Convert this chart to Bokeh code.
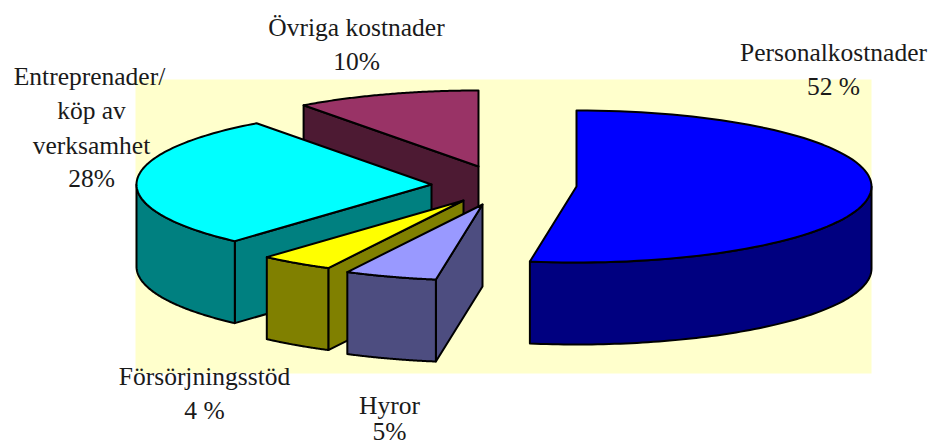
import math
from bokeh.plotting import figure
from bokeh.models import Range1d
from bokeh.core.properties import value
from bokeh.embed import file_html
from bokeh.resources import INLINE

# Data, clockwise from 12 o'clock
names = ["Personalkostnader", "Hyror", "Försörjningsstöd", "Entreprenader/ köp av verksamhet", "Övriga kostnader"]
shares = [52, 5, 4, 28, 10]

# Styles
top_colors = ["#0000FF", "#9999FF", "#FFFF00", "#00FFFF", "#993366"]
wall_colors = ["#000080", "#4D4D80", "#808000", "#008080", "#4D1A33"]
plot_bg = "#FFFFCC"
text_color = "#1a1a1a"

# Layout of the exploded pie (pixel-like data units)
apex_x = [576, 482, 463, 431, 478]
apex_y = [186, 204, 200, 184, 166]
RX, RY, DEPTH = 295, 76, 82
draw_order = [4, 3, 2, 1, 0]

label_lines = ["Personalkostnader", "52 %", "Övriga kostnader", "10%", "Entreprenader/", "köp av",
               "verksamhet", "28%", "Försörjningsstöd", "4 %", "Hyror", "5%"]
label_x = [833, 833, 356, 356, 89, 91, 91, 91, 204, 204, 389, 389]
label_y = [52, 86, 27, 61, 76, 110, 145, 178, 376, 410, 405, 431]


def arc(cx, cy, a0, a1, n=90):
    pts = []
    for i in range(n + 1):
        t = math.radians(a0 + (a1 - a0) * i / n)
        pts.append((cx + RX * math.cos(t), cy - RY * math.sin(t)))
    return pts


WIDTH, HEIGHT = 929, 446
p = figure(width=WIDTH, height=HEIGHT, output_backend="svg", toolbar_location=None,
           x_range=Range1d(0, WIDTH), y_range=Range1d(HEIGHT, 0),
           min_border=0, outline_line_color=None, background_fill_color="white",
           border_fill_color="white", x_axis_location=None, y_axis_location=None)
p.grid.visible = False

p.quad(left=[135], right=[871], top=[79], bottom=[373], fill_color=plot_bg, line_color=None)

total = sum(shares)
starts, ends = [], []
ang = 90.0
for s in shares:
    starts.append(ang)
    ang -= 360.0 * s / total
    ends.append(ang)

xs, ys, fills = [], [], []


def add(poly, color):
    xs.append([q[0] for q in poly])
    ys.append([q[1] for q in poly])
    fills.append(color)


for i in draw_order:
    cx, cy, a0, a1 = apex_x[i], apex_y[i], starts[i], ends[i]
    # radial wall facing the viewer
    for edge, vis in ((a0, math.cos(math.radians(a0)) < -1e-6), (a1, math.cos(math.radians(a1)) > 1e-6)):
        if vis:
            e = arc(cx, cy, edge, edge, 1)[0]
            add([(cx, cy), e, (e[0], e[1] + DEPTH), (cx, cy + DEPTH)], wall_colors[i])
    # outer rim: the part of the arc in the front half
    lo = max(a1, -180.0)
    hi = min(a0, 0.0)
    if a0 > -180 and lo < hi:
        rim = arc(cx, cy, hi, lo)
        add(rim + [(q[0], q[1] + DEPTH) for q in reversed(rim)], wall_colors[i])
    # top face
    add([(cx, cy)] + arc(cx, cy, a0, a1), top_colors[i])

p.patches(xs, ys, fill_color=fills, line_color="black", line_width=2, line_join="round")

p.text(label_x, label_y, text=label_lines, text_font=value("Liberation Serif"), text_font_size="25.5px",
       text_align="center", text_baseline="middle", text_color=text_color)

open("out.html", "w").write(file_html(p, INLINE))
